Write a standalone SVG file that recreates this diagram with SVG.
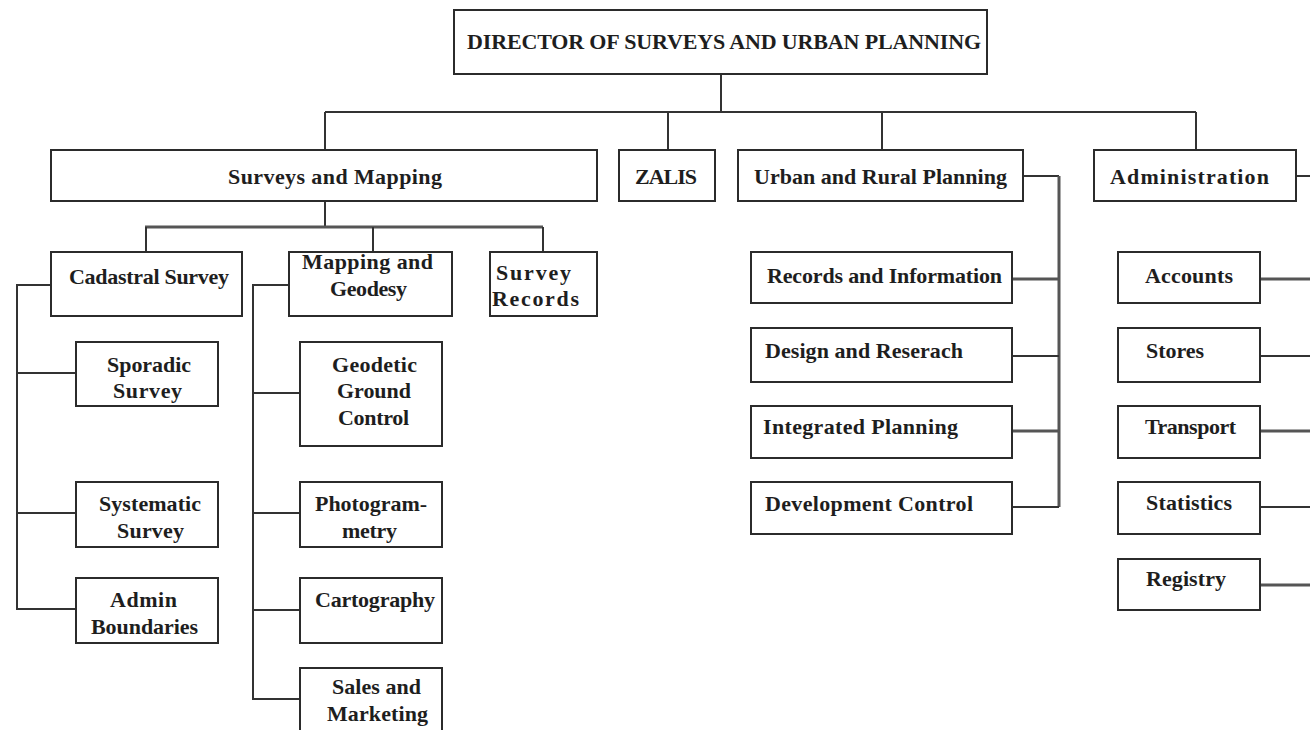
<svg xmlns="http://www.w3.org/2000/svg" width="1310" height="730" viewBox="0 0 1310 730">
<style>
.box{fill:#fff;stroke:#2b2b2b;stroke-width:2}
.t{font-family:"Liberation Serif","Times New Roman",serif;font-weight:bold;font-size:22px;fill:#1e1e1e;text-anchor:start}
.c{fill:none;stroke:#333;stroke-width:2}
.h{fill:none;stroke:#555;stroke-width:3}
</style>
<rect width="1310" height="730" fill="#fff"/>
<g id="connectors">
<path class="c" d="M721 74V112M325 112H1196M325 112V150M668 112V150M882 112V150M1196 112V150"/>
<path class="c" d="M325 201V227"/>
<path class="h" d="M145 227H543"/>
<path class="c" d="M146 227V252M373 227V252M543 227V252"/>
<path class="c" d="M51 285H17V609H76M17 373H76M17 513H76"/>
<path class="c" d="M289 285H253V699H300M253 393H300M253 513H300M253 610H300"/>
<path class="c" d="M1023 176H1059"/>
<path class="h" d="M1059 176V507"/>
<path class="h" d="M1012 279H1059M1012 431H1059"/>
<path class="c" d="M1012 356H1059M1012 507H1059"/>
<path class="c" d="M1296 176H1310"/>
<path class="h" d="M1260 279H1310M1260 431H1310M1260 585H1310"/>
<path class="c" d="M1260 356H1310M1260 507H1310"/>
</g>
<g id="director"><rect class="box" x="454" y="10" width="533" height="64"/><text class="t" x="467" y="49" textLength="514">DIRECTOR OF SURVEYS AND URBAN PLANNING</text></g>
<g id="surveys-mapping"><rect class="box" x="51" y="150" width="546" height="51"/><text class="t" x="228" y="184" textLength="214">Surveys and Mapping</text></g>
<g id="zalis"><rect class="box" x="619" y="150" width="96" height="51"/><text class="t" x="635" y="184" textLength="62">ZALIS</text></g>
<g id="urban-rural"><rect class="box" x="738" y="150" width="285" height="51"/><text class="t" x="754" y="184" textLength="253">Urban and Rural Planning</text></g>
<g id="administration"><rect class="box" x="1094" y="150" width="202" height="51"/><text class="t" x="1110" y="184" textLength="159">Administration</text></g>
<g id="cadastral"><rect class="box" x="51" y="252" width="191" height="64"/><text class="t" x="69" y="284" textLength="160">Cadastral Survey</text></g>
<g id="mapping-geodesy"><rect class="box" x="289" y="252" width="163" height="64"/><text class="t" x="302" y="269" textLength="131">Mapping and</text><text class="t" x="330" y="296" textLength="77">Geodesy</text></g>
<g id="survey-records"><rect class="box" x="490" y="252" width="107" height="64"/><text class="t" x="496" y="280" textLength="75">Survey</text><text class="t" x="492" y="306" textLength="87">Records</text></g>
<g id="sporadic"><rect class="box" x="76" y="342" width="142" height="64"/><text class="t" x="107" y="372" textLength="84">Sporadic</text><text class="t" x="113" y="398" textLength="69">Survey</text></g>
<g id="systematic"><rect class="box" x="76" y="482" width="142" height="65"/><text class="t" x="99" y="511" textLength="102">Systematic</text><text class="t" x="117" y="538" textLength="67">Survey</text></g>
<g id="admin-boundaries"><rect class="box" x="76" y="578" width="142" height="65"/><text class="t" x="110" y="607" textLength="67">Admin</text><text class="t" x="91" y="634" textLength="107">Boundaries</text></g>
<g id="geodetic"><rect class="box" x="300" y="342" width="142" height="104"/><text class="t" x="332" y="372" textLength="85">Geodetic</text><text class="t" x="337" y="398" textLength="74">Ground</text><text class="t" x="338" y="425" textLength="71">Control</text></g>
<g id="photogrammetry"><rect class="box" x="300" y="482" width="142" height="65"/><text class="t" x="315" y="511" textLength="112">Photogram-</text><text class="t" x="342" y="538" textLength="55">metry</text></g>
<g id="cartography"><rect class="box" x="300" y="578" width="142" height="65"/><text class="t" x="315" y="607" textLength="120">Cartography</text></g>
<g id="sales-marketing"><rect class="box" x="300" y="668" width="142" height="70"/><text class="t" x="332" y="694" textLength="89">Sales and</text><text class="t" x="327" y="721" textLength="101">Marketing</text></g>
<g id="records-information"><rect class="box" x="751" y="252" width="261" height="51"/><text class="t" x="767" y="283" textLength="235">Records and Information</text></g>
<g id="design-research"><rect class="box" x="751" y="328" width="261" height="54"/><text class="t" x="765" y="358" textLength="198">Design and Reserach</text></g>
<g id="integrated-planning"><rect class="box" x="751" y="406" width="261" height="52"/><text class="t" x="763" y="434" textLength="195">Integrated Planning</text></g>
<g id="development-control"><rect class="box" x="751" y="482" width="261" height="52"/><text class="t" x="765" y="511" textLength="208">Development Control</text></g>
<g id="accounts"><rect class="box" x="1118" y="252" width="142" height="51"/><text class="t" x="1145" y="283" textLength="88">Accounts</text></g>
<g id="stores"><rect class="box" x="1118" y="328" width="142" height="54"/><text class="t" x="1146" y="358" textLength="58">Stores</text></g>
<g id="transport"><rect class="box" x="1118" y="406" width="142" height="52"/><text class="t" x="1145" y="434" textLength="91">Transport</text></g>
<g id="statistics"><rect class="box" x="1118" y="482" width="142" height="52"/><text class="t" x="1146" y="510" textLength="86">Statistics</text></g>
<g id="registry"><rect class="box" x="1118" y="559" width="142" height="51"/><text class="t" x="1146" y="586" textLength="80">Registry</text></g>
</svg>
